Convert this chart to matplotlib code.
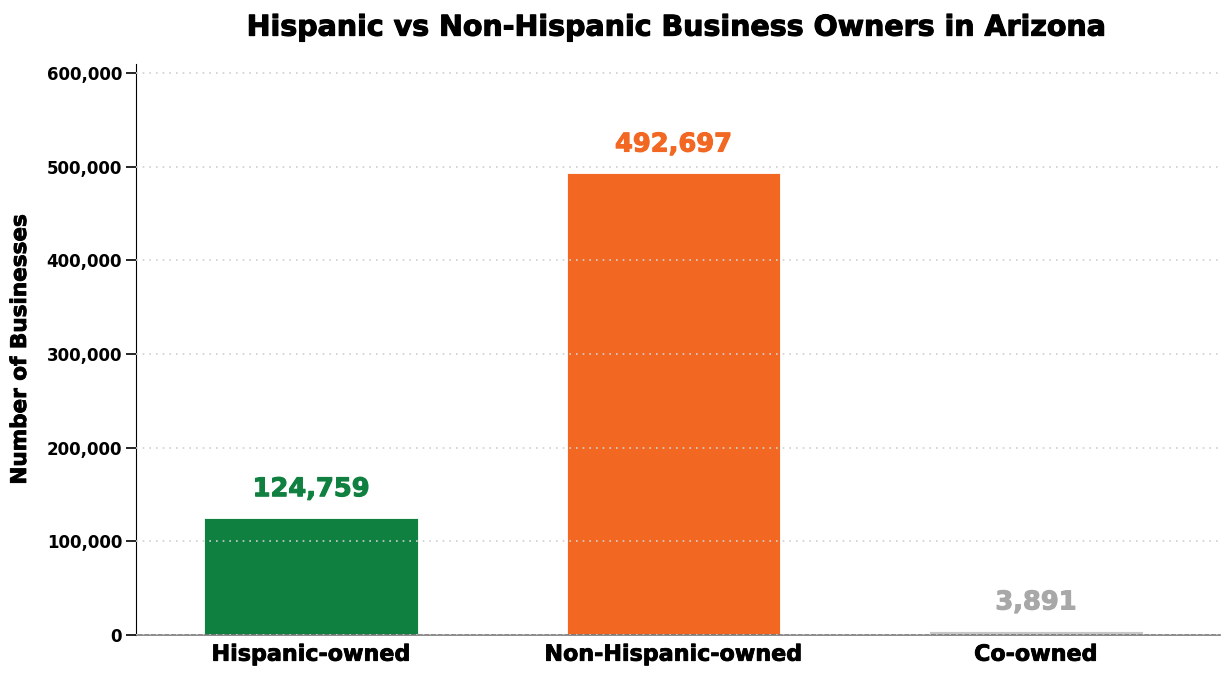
import matplotlib
matplotlib.use("Agg")
import matplotlib.pyplot as plt
import matplotlib.patheffects as pe
from matplotlib.ticker import FuncFormatter

plt.rcParams['font.family'] = ['DejaVu Sans']

categories = ["Hispanic-owned", "Non-Hispanic-owned", "Co-owned"]
values = [124759, 492697, 3891]
bar_colors = ["#108041", "#F26722", "#C8C8C8"]
label_colors = ["#108041", "#F26722", "#A8A8A8"]
y_ticks = [0, 100000, 200000, 300000, 400000, 500000, 600000]


def heavy(color, w=0.8):
    # thicken the glyphs a bit, the source font is a black weight
    return [pe.withStroke(linewidth=w, foreground=color)]


fig = plt.figure(figsize=(12.3, 6.8), dpi=100)
ax = fig.add_axes([0.1106, 0.0662, 0.8814, 0.8398])

x = range(len(categories))
ax.bar(x, values, width=0.59, color=bar_colors, edgecolor="white", linewidth=0.6, zorder=2)

for xi, v, c in zip(x, values, label_colors):
    ax.text(xi, v + 17000, f"{v:,}", ha="center", va="bottom",
            fontsize=18.5, fontweight="bold", color=c, zorder=4,
            path_effects=heavy(c))

ax.set_xlim(-0.483, 2.508)
ax.set_ylim(0, 609600)
ax.set_yticks(y_ticks)
ax.yaxis.set_major_formatter(FuncFormatter(lambda v, p: f"{int(v):,}"))
ax.set_xticks(list(x))
ax.set_xticklabels(categories, fontsize=16, fontweight="bold")
for lbl in ax.get_xticklabels():
    lbl.set_path_effects(heavy("black", 0.6))
for lbl in ax.get_yticklabels():
    lbl.set_fontsize(12)
    lbl.set_fontweight("bold")

ax.grid(axis="y", linestyle=(0, (1, 3)), color="#d0d0d0", linewidth=1.2, zorder=3)
ax.set_axisbelow(False)
for b in ax.patches:
    b.set_zorder(2)

ax.spines["top"].set_visible(False)
ax.spines["right"].set_visible(False)
ax.spines["left"].set_color("black")
ax.spines["bottom"].set_color("#777777")
ax.spines["bottom"].set_linewidth(1.2)
ax.tick_params(axis="y", length=7, width=1.2, color="black", pad=3)
ax.tick_params(axis="x", length=0, pad=7)

ax.set_ylabel("Number of Businesses", fontsize=15.5, fontweight="bold", labelpad=12,
              path_effects=heavy("black", 0.6))
fig.suptitle("Hispanic vs Non-Hispanic Business Owners in Arizona",
             fontsize=20.5, fontweight="bold", x=0.55, y=0.98,
             path_effects=heavy("black"))

fig.savefig("out.png", dpi=100)
